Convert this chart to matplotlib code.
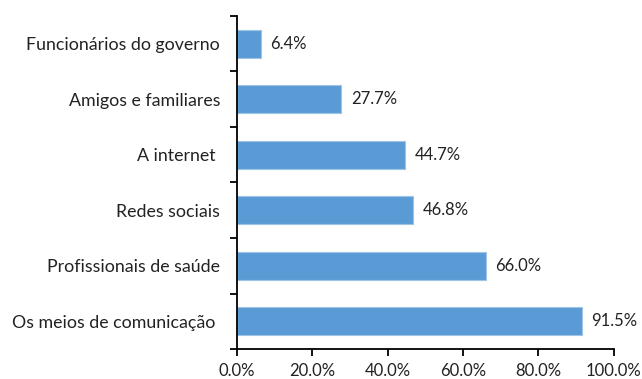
import matplotlib
matplotlib.use("Agg")
import matplotlib.pyplot as plt
from matplotlib.ticker import FixedLocator, FuncFormatter
import numpy as np

categories = ["Os meios de comunicação ", "Profissionais de saúde", "Redes sociais",
              "A internet ", "Amigos e familiares", "Funcionários do governo"]
values = [91.5, 66.0, 46.8, 44.7, 27.7, 6.4]
x_ticks = [0, 20, 40, 60, 80, 100]

plt.rcParams["font.family"] = ["Lato", "DejaVu Sans"]

fig = plt.figure(figsize=(6.42, 3.79), dpi=100)
ax = fig.add_axes([0.369, 0.079, 0.587, 0.879])

y = np.arange(len(categories))
ax.barh(y, values, height=0.5, color="#5B9BD5", edgecolor="#9DC3E6", linewidth=0.8)

for yi, v in zip(y, values):
    ax.text(v + 2.5, yi, f"{v:.1f}%", va="center", ha="left", fontsize=12, color="#222222")

ax.set_xlim(0, 100)
ax.set_ylim(-0.5, len(categories) - 0.5)
ax.xaxis.set_major_locator(FixedLocator(x_ticks))
ax.xaxis.set_major_formatter(FuncFormatter(lambda v, p: f"{v:.1f}%"))

ax.set_yticks(np.arange(-0.5, len(categories), 1.0))
ax.set_yticklabels([])
ax.set_yticks(y, minor=True)
ax.set_yticklabels(categories, minor=True)
ax.tick_params(axis="y", which="major", length=5, width=1.3, direction="out", color="black")
ax.tick_params(axis="y", which="minor", length=0, pad=12, labelsize=12.8, labelcolor="#222222")
ax.tick_params(axis="x", length=5, width=1.3, direction="out", labelsize=12, labelcolor="#222222", pad=5)

for side in ["top", "right"]:
    ax.spines[side].set_visible(False)
for side in ["left", "bottom"]:
    ax.spines[side].set_linewidth(1.3)
    ax.spines[side].set_color("black")

fig.savefig("out.png", dpi=100)
